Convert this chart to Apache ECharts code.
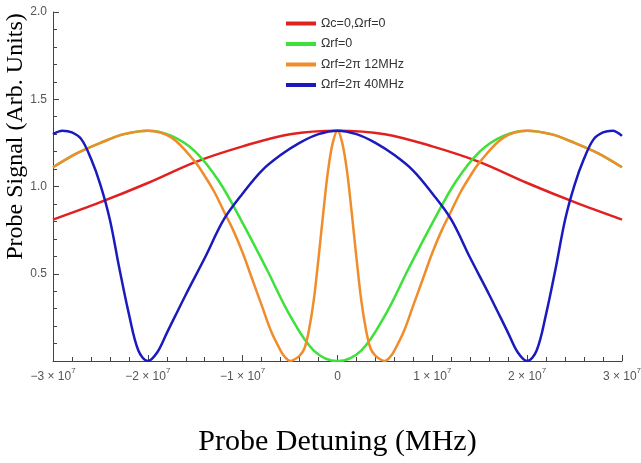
<!DOCTYPE html>
<html>
<head>
<meta charset="utf-8">
<script src="https://cdn.jsdelivr.net/npm/echarts@6/dist/echarts.min.js"></script>
<style>
  html, body { margin: 0; padding: 0; background: #fff; }
  #chart { width: 641px; height: 463px; }
</style>
</head>
<body>
<div id="chart"></div>
<script>
// detuning values are in units of 1e6 (the axis shows them in 1e7 steps)
const SCALE = 1e6;

const seriesNames = ['Ωc=0,Ωrf=0', 'Ωrf=0', 'Ωrf=2π 12MHz', 'Ωrf=2π 40MHz'];
const seriesColors = ['#e0211f', '#3ee03a', '#f08c2a', '#1b1bbd'];

// Ωc=0,Ωrf=0 (red)
const redX = [-30, -25, -20, -15, -10, -5, 0, 5, 10, 15, 20, 25, 30];
const redY = [0.81, 0.91, 1.02, 1.14, 1.23, 1.30, 1.32, 1.30, 1.23, 1.14, 1.02, 0.91, 0.81];

// Ωrf=0 (green)
const greenX = [-30, -27.5, -25, -22.5, -20, -17.5, -15, -12.5, -10, -7.5, -5, -2.5, 0,
  2.5, 5, 7.5, 10, 12.5, 15, 17.5, 20, 22.5, 25, 27.5, 30];
const greenY = [1.11, 1.19, 1.25, 1.30, 1.32, 1.29, 1.20, 1.03, 0.79, 0.53, 0.26, 0.06, 0,
  0.06, 0.26, 0.53, 0.79, 1.03, 1.20, 1.29, 1.32, 1.30, 1.25, 1.19, 1.11];

// Ωrf=2π 12MHz (orange)
const orangeX = [-30, -27.5, -25, -22.5, -20, -17.5, -15, -14, -13, -12, -11, -10, -9, -8, -7, -6,
  -5.5, -5, -4.5, -4, -3.5, -3, -2.5, -2, -1.5, -1, -0.5, 0,
  0.5, 1, 1.5, 2, 2.5, 3, 3.5, 4, 4.5, 5, 5.5,
  6, 7, 8, 9, 10, 11, 12, 13, 14, 15, 17.5, 20, 22.5, 25, 27.5, 30];
const orangeY = [1.11, 1.19, 1.25, 1.30, 1.32, 1.28, 1.14, 1.06, 0.97, 0.86, 0.75, 0.62, 0.47, 0.32, 0.17, 0.06,
  0.02, 0.0, 0.01, 0.03, 0.07, 0.18, 0.35, 0.59, 0.85, 1.09, 1.25, 1.32,
  1.25, 1.09, 0.85, 0.59, 0.35, 0.18, 0.07, 0.03, 0.01, 0.0, 0.02,
  0.06, 0.17, 0.32, 0.47, 0.62, 0.75, 0.86, 0.97, 1.06, 1.14, 1.28, 1.32, 1.30, 1.25, 1.19, 1.11];

// Ωrf=2π 40MHz (blue)
const blueX = [-30, -29, -28, -27, -26, -25, -24, -23, -22, -21, -20, -19, -18, -16, -14, -12, -10, -8, -6, -4, -2, 0,
  2, 4, 6, 8, 10, 12, 14, 16, 18, 19, 20, 21, 22, 23, 24, 25, 26, 27, 28, 29, 30];
const blueY = [1.30, 1.32, 1.31, 1.27, 1.16, 1.01, 0.81, 0.53, 0.27, 0.06, 0.0, 0.05, 0.16, 0.38, 0.59, 0.81, 0.96, 1.09, 1.18, 1.25, 1.30, 1.32,
  1.30, 1.25, 1.18, 1.09, 0.96, 0.81, 0.59, 0.38, 0.16, 0.05, 0.0, 0.06, 0.27, 0.53, 0.81, 1.01, 1.16, 1.27, 1.31, 1.32, 1.29];

const xs = [redX, greenX, orangeX, blueX];
const ys = [redY, greenY, orangeY, blueY];

const toPoints = (x, y) => x.map((v, i) => [v * SCALE, y[i]]);

const chart = echarts.init(document.getElementById('chart'));

const option = {
  backgroundColor: '#fff',
  animation: false,
  grid: { left: 53, right: 19, top: 12, bottom: 102, outerBoundsMode: 'none', containLabel: false },
  legend: {
    orient: 'vertical',
    left: 281,
    top: 12,
    itemWidth: 30,
    itemHeight: 4,
    itemGap: 7.5,
    icon: 'rect',
    data: seriesNames,
    textStyle: { fontFamily: 'Liberation Sans', fontSize: 12.5, color: '#333' }
  },
  xAxis: {
    type: 'value',
    min: -3e7,
    max: 3e7,
    interval: 1e7,
    name: 'Probe Detuning (MHz)',
    nameLocation: 'middle',
    nameGap: 66,
    nameMoveOverlap: false,
    nameTextStyle: { fontFamily: 'Liberation Serif', fontSize: 30, color: '#000' },
    axisLine: { lineStyle: { color: '#444', width: 1 } },
    axisTick: { inside: true, length: 6, lineStyle: { color: '#444' } },
    minorTick: { show: true, splitNumber: 5, length: 4, lineStyle: { color: '#444' } },
    splitLine: { show: false },
    axisLabel: {
      margin: 6,
      showMinLabel: true,
      showMaxLabel: true,
      formatter: v => v === 0 ? '{m|0}' : '{m|' + (v < 0 ? '−' : '') + Math.abs(v / 1e7) + ' × 10}{s|7}',
      rich: {
        m: { fontFamily: 'Liberation Sans', fontSize: 12, color: '#555', lineHeight: 16, verticalAlign: 'bottom' },
        s: { fontFamily: 'Liberation Sans', fontSize: 8, color: '#555', lineHeight: 16, verticalAlign: 'top' }
      }
    }
  },
  yAxis: {
    type: 'value',
    min: 0,
    max: 2,
    interval: 0.5,
    name: 'Probe Signal (Arb. Units)',
    nameLocation: 'middle',
    nameGap: 25,
    nameMoveOverlap: false,
    nameTextStyle: { fontFamily: 'Liberation Serif', fontSize: 24, color: '#000', padding: [0, 0, 0, 100] },
    axisLine: { show: true, onZero: false, lineStyle: { color: '#444', width: 1 } },
    axisTick: { show: true, inside: true, length: 6, lineStyle: { color: '#444' } },
    minorTick: { show: true, splitNumber: 5, length: 4, lineStyle: { color: '#444' } },
    splitLine: { show: false },
    axisLabel: {
      margin: 6,
      fontFamily: 'Liberation Sans',
      fontSize: 12,
      color: '#555',
      formatter: v => v === 0 ? '' : v.toFixed(1)
    }
  },
  series: seriesNames.map((name, i) => ({
    name: name,
    type: 'line',
    data: toPoints(xs[i], ys[i]),
    showSymbol: false,
    smooth: 0.35,
    color: seriesColors[i],
    lineStyle: { width: 2.5, color: seriesColors[i] },
    z: 2 + i
  }))
};

chart.setOption(option);
</script>
</body>
</html>
